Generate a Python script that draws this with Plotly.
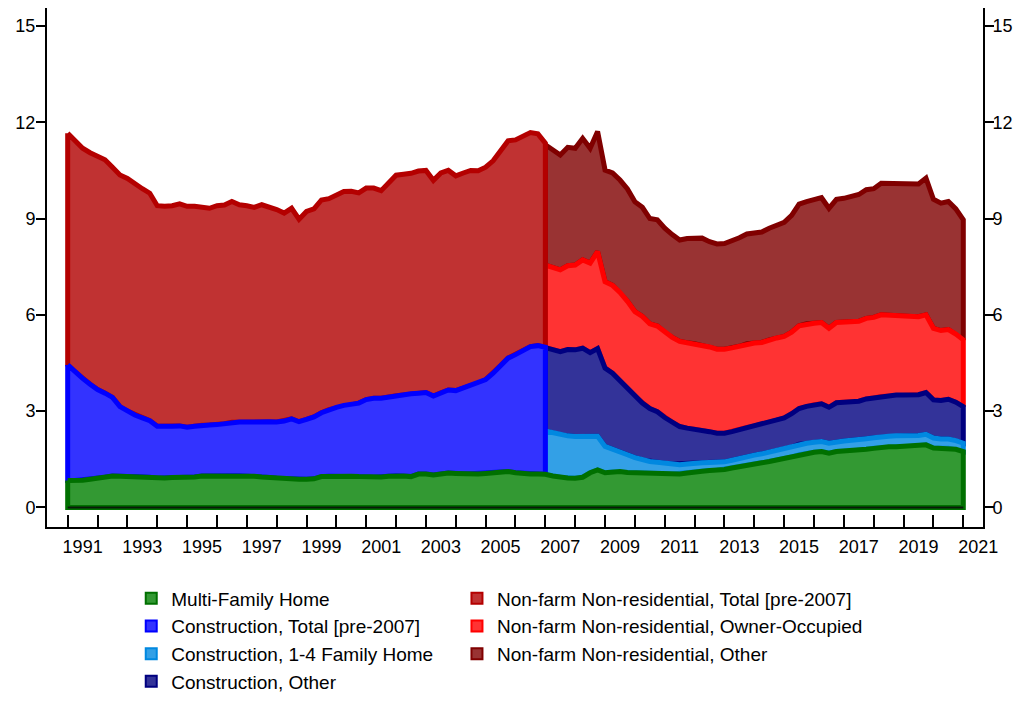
import plotly.graph_objects as go

# Quarterly observations, 1991Q1 .. 2021Q1 (decimal years)
quarters = [1991 + q / 4 for q in range(121)]
pre_x = quarters[:65]     # 1991.00 .. 2007.00
post_x = quarters[64:]    # 2007.00 .. 2021.00

year_labels = ["1991", "1993", "1995", "1997", "1999", "2001", "2003", "2005",
               "2007", "2009", "2011", "2013", "2015", "2017", "2019", "2021"]
y_ticks = [0, 3, 6, 9, 12, 15]

# Multi-family home (whole sample, 121 quarters)
multi_family = [
    0.84, 0.84, 0.85, 0.88, 0.91, 0.94, 0.98, 0.97,
    0.96, 0.96, 0.96, 0.94, 0.91, 0.92, 0.93, 0.93,
    0.93, 0.95, 0.98, 0.98, 0.98, 0.99, 0.99, 0.99,
    0.98, 0.97, 0.95, 0.93, 0.91, 0.89, 0.88, 0.88,
    0.88, 0.89, 0.96, 0.97, 0.98, 0.98, 0.97, 0.96,
    0.95, 0.94, 0.95, 0.97, 0.99, 0.98, 0.96, 1.04,
    1.04, 1.01, 1.04, 1.07, 1.06, 1.05, 1.05, 1.04,
    1.06, 1.08, 1.10, 1.12, 1.08, 1.05, 1.04, 1.04,
    1.03, 0.98, 0.94, 0.92, 0.91, 0.94, 1.08, 1.17,
    1.08, 1.10, 1.12, 1.09, 1.08, 1.07, 1.06, 1.06,
    1.05, 1.04, 1.04, 1.07, 1.11, 1.13, 1.15, 1.16,
    1.18, 1.23, 1.28, 1.32, 1.36, 1.39, 1.43, 1.48,
    1.51, 1.57, 1.64, 1.69, 1.72, 1.74, 1.69, 1.74,
    1.75, 1.76, 1.77, 1.81, 1.84, 1.88, 1.89, 1.89,
    1.90, 1.90, 1.91, 1.95, 1.85, 1.84, 1.84, 1.81,
    1.74,
]

# pre-2007 series
construction_total = [
    3.60, 3.38, 3.17, 2.96, 2.76, 2.62, 2.45, 2.17,
    2.04, 1.92, 1.83, 1.76, 1.62, 1.60, 1.60, 1.61,
    1.57, 1.58, 1.58, 1.59, 1.60, 1.62, 1.66, 1.67,
    1.68, 1.70, 1.72, 1.74, 1.75, 1.80, 1.88, 1.79,
    1.86, 1.93, 1.99, 2.08, 2.14, 2.20, 2.23, 2.29,
    2.41, 2.46, 2.45, 2.47, 2.49, 2.53, 2.58, 2.52,
    2.54, 2.46, 2.53, 2.59, 2.58, 2.67, 2.76, 2.83,
    2.92, 3.10, 3.32, 3.53, 3.68, 3.85, 3.97, 4.00,
    3.96,
]
nonfarm_total = [
    7.22, 7.18, 7.17, 7.21, 7.26, 7.27, 7.17, 7.22,
    7.25, 7.20, 7.14, 7.09, 6.87, 6.86, 6.87, 6.92,
    6.88, 6.85, 6.79, 6.75, 6.82, 6.81, 6.88, 6.77,
    6.74, 6.68, 6.76, 6.69, 6.62, 6.48, 6.56, 6.31,
    6.48, 6.48, 6.63, 6.57, 6.63, 6.66, 6.65, 6.55,
    6.59, 6.55, 6.47, 6.66, 6.87, 6.87, 6.87, 6.92,
    6.92, 6.72, 6.85, 6.84, 6.69, 6.70, 6.69, 6.62,
    6.62, 6.62, 6.68, 6.77, 6.69, 6.66, 6.67, 6.60,
    6.36,
]

# post-2007 series
construction_14 = [
    1.35, 1.34, 1.32, 1.31, 1.30, 1.27, 1.12, 1.05,
    0.82, 0.70, 0.60, 0.55, 0.47, 0.41, 0.37, 0.35,
    0.33, 0.31, 0.29, 0.28, 0.27, 0.26, 0.25, 0.25,
    0.24, 0.24, 0.25, 0.27, 0.27, 0.28, 0.30, 0.31,
    0.31, 0.31, 0.33, 0.31, 0.31, 0.31, 0.31, 0.31,
    0.32, 0.33, 0.33, 0.33, 0.33, 0.33, 0.33, 0.34,
    0.33, 0.34, 0.33, 0.33, 0.31, 0.29, 0.29, 0.27,
    0.26,
]
construction_other = [
    2.60, 2.60, 2.59, 2.69, 2.70, 2.75, 2.62, 2.73,
    2.44, 2.38, 2.23, 2.03, 1.90, 1.77, 1.65, 1.57,
    1.42, 1.30, 1.19, 1.12, 1.06, 1.02, 0.96, 0.90,
    0.89, 0.89, 0.89, 0.90, 0.91, 0.91, 0.92, 0.93,
    0.97, 1.04, 1.11, 1.15, 1.17, 1.18, 1.12, 1.21,
    1.21, 1.20, 1.21, 1.24, 1.24, 1.25, 1.27, 1.27,
    1.27, 1.26, 1.27, 1.30, 1.19, 1.20, 1.24, 1.20,
    1.14,
]
nonfarm_owner = [
    2.57, 2.56, 2.55, 2.61, 2.64, 2.75, 2.79, 3.02,
    2.69, 2.74, 2.75, 2.75, 2.65, 2.70, 2.64, 2.67,
    2.65, 2.65, 2.65, 2.66, 2.66, 2.66, 2.64, 2.62,
    2.62, 2.61, 2.60, 2.61, 2.58, 2.56, 2.57, 2.56,
    2.54, 2.54, 2.58, 2.57, 2.54, 2.53, 2.46, 2.50,
    2.49, 2.49, 2.49, 2.51, 2.51, 2.54, 2.50, 2.48,
    2.47, 2.45, 2.43, 2.42, 2.23, 2.18, 2.17, 2.12,
    2.08,
]
nonfarm_other = [
    3.75, 3.67, 3.58, 3.69, 3.64, 3.79, 3.58, 3.74,
    3.48, 3.50, 3.50, 3.50, 3.42, 3.40, 3.28, 3.31,
    3.25, 3.20, 3.16, 3.25, 3.29, 3.32, 3.28, 3.28,
    3.29, 3.33, 3.38, 3.42, 3.43, 3.44, 3.48, 3.52,
    3.55, 3.64, 3.79, 3.81, 3.84, 3.89, 3.74, 3.84,
    3.86, 3.92, 3.95, 4.01, 4.01, 4.10, 4.11, 4.10,
    4.10, 4.12, 4.14, 4.26, 4.02, 3.97, 3.99, 3.90,
    3.74,
]

# name: (fill, line)
STYLE = {
    "Multi-Family Home": ("#339933", "#007000"),
    "Construction, Total [pre-2007]": ("#3333ff", "#0000ff"),
    "Construction, 1-4 Family Home": ("#33a0e6", "#0088e0"),
    "Construction, Other": ("#333399", "#000080"),
    "Non-farm Non-residential, Total [pre-2007]": ("#c03232", "#b40000"),
    "Non-farm Non-residential, Owner-Occupied": ("#ff3333", "#ff0000"),
    "Non-farm Non-residential, Other": ("#993333", "#800000"),
}
LEGEND_COL1 = ["Multi-Family Home", "Construction, Total [pre-2007]",
               "Construction, 1-4 Family Home", "Construction, Other"]
LEGEND_COL2 = ["Non-farm Non-residential, Total [pre-2007]",
               "Non-farm Non-residential, Owner-Occupied",
               "Non-farm Non-residential, Other"]

FONT = "Liberation Sans, Arial, sans-serif"


def running_sum(base, values):
    return [b + v for b, v in zip(base, values)]


def band(x, lower, upper, name):
    # closed outline: top left->right, bottom right->left, back to start
    xs = list(x) + list(x)[::-1] + [x[0]]
    ys = list(upper) + list(lower)[::-1] + [upper[0]]
    fill, line = STYLE[name]
    return go.Scatter(x=xs, y=ys, mode="lines", fill="toself", fillcolor=fill,
                      line=dict(color=line, width=5), showlegend=False,
                      hoverinfo="skip", name=name)


# stack levels
mf_pre = multi_family[:65]
mf_post = multi_family[64:]
ct_top = running_sum(mf_pre, construction_total)
nt_top = running_sum(ct_top, nonfarm_total)
c14_top = running_sum(mf_post, construction_14)
co_top = running_sum(c14_top, construction_other)
no_top = running_sum(co_top, nonfarm_owner)
nr_top = running_sum(no_top, nonfarm_other)

fig = go.Figure()

# draw from top of stack down so lower outlines sit on top
fig.add_trace(band(post_x, no_top, nr_top, "Non-farm Non-residential, Other"))
fig.add_trace(band(post_x, co_top, no_top, "Non-farm Non-residential, Owner-Occupied"))
fig.add_trace(band(post_x, c14_top, co_top, "Construction, Other"))
fig.add_trace(band(post_x, mf_post, c14_top, "Construction, 1-4 Family Home"))
fig.add_trace(band(pre_x, ct_top, nt_top, "Non-farm Non-residential, Total [pre-2007]"))
fig.add_trace(band(pre_x, mf_pre, ct_top, "Construction, Total [pre-2007]"))
fig.add_trace(band(quarters, [0] * len(quarters), multi_family, "Multi-Family Home"))

# baseline
fig.add_trace(go.Scatter(x=[quarters[0], quarters[-1]], y=[0, 0], mode="lines",
                         line=dict(color="#0a1a0a", width=2), showlegend=False,
                         hoverinfo="skip", xaxis="x2", yaxis="y2"))

# legend entries
for col, names in (("legend", LEGEND_COL1), ("legend2", LEGEND_COL2)):
    for name in names:
        fill, line = STYLE[name]
        fig.add_trace(go.Scatter(
            x=[None], y=[None], mode="markers", name=name, legend=col,
            legendgroup=name,
            marker=dict(symbol="square", size=11, color=fill,
                        line=dict(color=line, width=2)),
        ))

x_range = [1990.307, 2021.66]
y_range = [-0.61, 15.56]
tickfont = dict(family=FONT, size=18, color="black")

legend_common = dict(
    orientation="v", yanchor="top", y=-0.101, xanchor="left",
    font=dict(family=FONT, size=19, color="black"),
    bgcolor="rgba(0,0,0,0)", tracegroupgap=0, itemwidth=30,
)

y_common = dict(
    range=y_range, showgrid=False, zeroline=False,
    showline=True, linecolor="black", linewidth=2,
    tickmode="array", tickvals=y_ticks,
    ticks="outside", ticklen=9, tickwidth=1.5, tickcolor="black",
    tickfont=tickfont, automargin=False,
)

# the page body has an 8px margin, so the figure is offset by 8px;
# height is kept short enough that no scrollbar appears
fig.update_layout(
    width=1015, height=686,
    margin=dict(l=39, r=40, t=0, b=167, autoexpand=False),
    paper_bgcolor="white", plot_bgcolor="white",
    showlegend=True,
    legend=dict(x=0.09, **legend_common),
    legend2=dict(x=0.438, **legend_common),
    xaxis=dict(
        range=x_range, showgrid=False, zeroline=False,
        showline=True, linecolor="black", linewidth=2,
        tickmode="array",
        tickvals=[int(y) + 0.5 for y in year_labels], ticktext=year_labels,
        ticks="outside", ticklen=2, tickcolor="rgba(0,0,0,0)",
        tickfont=tickfont, automargin=False,
    ),
    xaxis2=dict(
        range=x_range, matches="x", overlaying="x", side="bottom",
        showgrid=False, zeroline=False, showline=False,
        tickmode="array", tickvals=list(range(1991, 2022)),
        ticks="inside", ticklen=12, tickwidth=1.5, tickcolor="black",
        showticklabels=False,
    ),
    yaxis=dict(ticklabelstandoff=-3, **y_common),
    yaxis2=dict(overlaying="y", matches="y", side="right",
                ticklabelstandoff=-5, **y_common),
)

fig.write_html("out.html")
